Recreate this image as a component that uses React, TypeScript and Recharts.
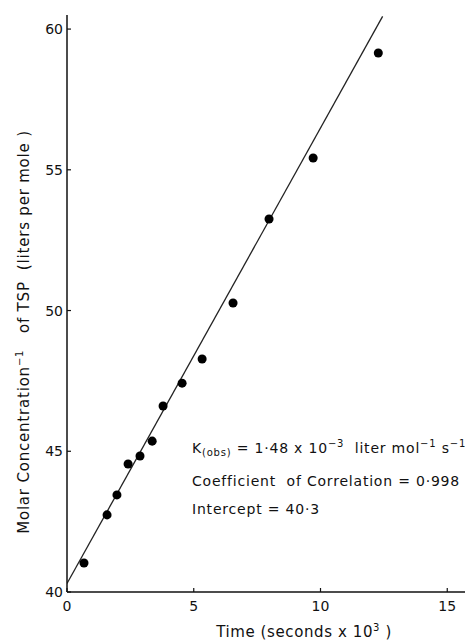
import { ComposedChart, Scatter, Line, XAxis, YAxis } from "recharts"

// time in 10^3 s, y = 1 / molar concentration of TSP (liters per mole)
const timeValues = [0.67, 1.58, 1.97, 2.41, 2.88, 3.36, 3.79, 4.54, 5.33, 6.55, 7.97, 9.71, 12.28]
const invConc = [41.03, 42.74, 43.45, 44.55, 44.83, 45.36, 46.61, 47.42, 48.28, 50.27, 53.25, 55.42, 59.15]

// least-squares line as drawn on the figure
const fitX = [0, 12.45]
const fitY = [40.3, 60.45]

const xTicks = [0, 5, 10, 15]
const yTicks = [40, 45, 50, 55, 60]

const points = timeValues.map((t, i) => ({ x: t, y: invConc[i] }))
const fitLine = fitX.map((t, i) => ({ x: t, y: fitY[i] }))

const FONT = "'DejaVu Sans', sans-serif"

const YTick = (props: any) => {
    const { x, y, payload } = props
    return (
        <g>
            <line x1={x + 4} y1={y} x2={x + 8} y2={y} stroke="#111" strokeWidth={1.2} />
            <text x={x} y={y} dy={5} textAnchor="end" fontSize={14} fontFamily={FONT} fill="#111">
                {payload.value}
            </text>
        </g>
    )
}

const XTick = (props: any) => {
    const { x, y, payload } = props
    return (
        <g>
            <line x1={x} y1={y - 8} x2={x} y2={y - 12} stroke="#111" strokeWidth={1.2} />
            <text x={x} y={y} dy={11} textAnchor="middle" fontSize={14} fontFamily={FONT} fill="#111">
                {payload.value}
            </text>
        </g>
    )
}

const sup = { fontSize: 10 }

export default function App() {
    return (
        <div style={{ position: "absolute", left: 0, top: 0, width: 465, height: 640, background: "#fff" }}>
            <ComposedChart width={465} height={640} margin={{ top: 15, right: 0, bottom: 0, left: 0 }}>
                <XAxis
                    type="number"
                    dataKey="x"
                    domain={[0, 15.7]}
                    ticks={xTicks}
                    stroke="#111"
                    strokeWidth={1.5}
                    tickLine={false}
                    tickSize={8}
                    tickMargin={0}
                    tick={<XTick />}
                    height={48}
                    allowDataOverflow
                />
                <YAxis
                    type="number"
                    dataKey="y"
                    domain={[40, 60.5]}
                    ticks={yTicks}
                    stroke="#111"
                    strokeWidth={1.5}
                    tickLine={false}
                    tickSize={4}
                    tickMargin={0}
                    tick={<YTick />}
                    width={67}
                    allowDataOverflow
                />
                <Line
                    data={fitLine}
                    dataKey="y"
                    type="linear"
                    stroke="#222"
                    strokeWidth={1.3}
                    dot={false}
                    activeDot={false}
                    isAnimationActive={false}
                />
                <Scatter data={points} dataKey="y" fill="#000" shape="circle" isAnimationActive={false} />
            </ComposedChart>

            <div
                style={{
                    position: "absolute",
                    left: 304,
                    top: 631,
                    transform: "translate(-50%, -50%)",
                    fontFamily: FONT,
                    fontSize: 15,
                    letterSpacing: 0.6,
                    color: "#111",
                    whiteSpace: "nowrap",
                }}
            >
                Time (seconds x 10<sup style={sup}>3</sup> )
            </div>

            <div
                style={{
                    position: "absolute",
                    left: 23,
                    top: 332,
                    transform: "translate(-50%, -50%) rotate(-90deg)",
                    fontFamily: FONT,
                    fontSize: 15,
                    letterSpacing: 0.8,
                    color: "#111",
                    whiteSpace: "nowrap",
                }}
            >
                Molar Concentration<sup style={sup}>−1</sup>&nbsp;&nbsp; of TSP&nbsp; (liters per mole )
            </div>

            <div
                style={{
                    position: "absolute",
                    left: 192,
                    top: 430,
                    fontFamily: FONT,
                    fontSize: 14,
                    letterSpacing: 0.8,
                    color: "#111",
                    lineHeight: "28px",
                    whiteSpace: "nowrap",
                }}
            >
                <div>
                    K<sub style={sup}>(obs)</sub> = 1·48 x 10<sup style={sup}>−3</sup>&nbsp; liter mol
                    <sup style={sup}>−1</sup> s<sup style={sup}>−1</sup>
                </div>
                <div>Coefficient&nbsp; of Correlation = 0·998</div>
                <div>Intercept = 40·3</div>
            </div>
        </div>
    )
}
